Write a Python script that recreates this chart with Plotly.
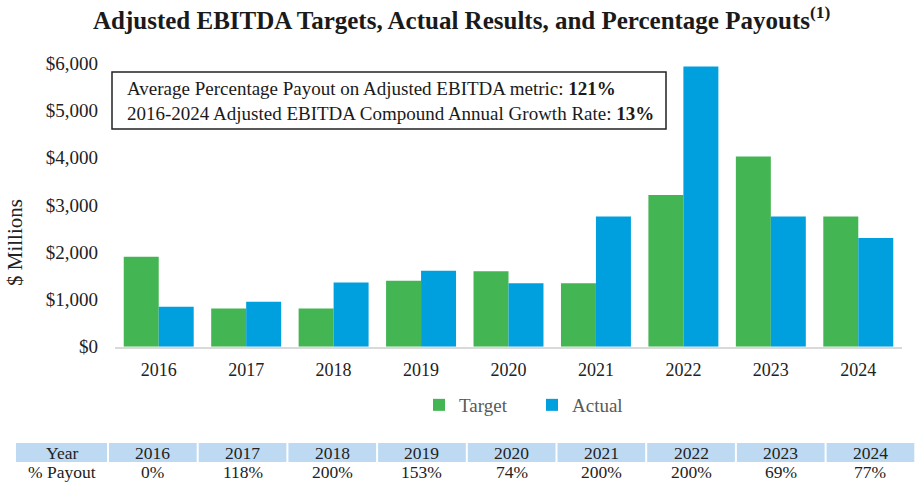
import plotly.graph_objects as go

W, H = 915, 482

years = ["2016", "2017", "2018", "2019", "2020", "2021", "2022", "2023", "2024"]
target = [1900, 810, 810, 1395, 1595, 1340, 3210, 4025, 2755]
actual = [845, 950, 1360, 1605, 1340, 2755, 5925, 2755, 2300]
payout = ["0%", "118%", "200%", "153%", "74%", "200%", "200%", "69%", "77%"]
yticks = [0, 1000, 2000, 3000, 4000, 5000, 6000]
ytick_text = ["$0", "$1,000", "$2,000", "$3,000", "$4,000", "$5,000", "$6,000"]
table_header = ["Year"] + years
table_row = ["% Payout"] + payout

GREEN = "#43B553"
BLUE = "#009FDE"
HEAD_FILL = "#BDDAF2"
FONT = "Liberation Serif"

# table geometry (pixels)
TABLE_LEFT = 15
COL_W = [93] + [89.7] * 9
HEAD_TOP, HEAD_BOT, ROW_BOT = 443, 462, 481


def px_x(x):
    return x / W


def px_y(y):
    return 1 - y / H


fig = go.Figure()
fig.add_trace(go.Bar(x=years, y=target, name="Target", marker_color=GREEN,
                     marker_line_width=0))
fig.add_trace(go.Bar(x=years, y=actual, name="Actual", marker_color=BLUE,
                     marker_line_width=0))

fig.update_layout(
    width=W, height=H,
    margin=dict(l=0, r=0, t=0, b=0, autoexpand=False),
    paper_bgcolor="white", plot_bgcolor="white",
    barmode="group", bargap=0.2, bargroupgap=0,
    font=dict(family=FONT, color="#222222"),
    showlegend=True,
    legend=dict(orientation="h", x=px_x(419), xanchor="left",
                y=px_y(386), yanchor="top",
                font=dict(family=FONT, size=19, color="#595959"),
                entrywidth=68, entrywidthmode="pixels",
                bgcolor="rgba(0,0,0,0)"),
    xaxis=dict(domain=[px_x(115), px_x(902)], showline=True, linecolor="#D9D9D9",
               linewidth=1.5, ticks="", showgrid=False, automargin=False,
               tickfont=dict(family=FONT, size=18, color="#222222"),
               ticklabelstandoff=6),
    yaxis=dict(domain=[px_y(346.7), px_y(63)], range=[0, 6000], tickvals=yticks,
               ticktext=ytick_text, showgrid=False, zeroline=False, showline=False,
               automargin=False,
               ticks="", tickfont=dict(family=FONT, size=19, color="#222222"),
               ticklabelstandoff=16),
)

# table below the chart
x_left = TABLE_LEFT
for i, w in enumerate(COL_W):
    x0, x1 = x_left, x_left + w
    fig.add_shape(type="rect", xref="paper", yref="paper", layer="below",
                  x0=px_x(x0 + 1), x1=px_x(x1 - 1), y0=px_y(HEAD_BOT), y1=px_y(HEAD_TOP),
                  line=dict(width=0), fillcolor=HEAD_FILL)
    cx = (x0 + x1) / 2
    fig.add_annotation(text=table_header[i], xref="paper", yref="paper",
                       x=px_x(cx), y=px_y((HEAD_TOP + HEAD_BOT) / 2),
                       xanchor="center", yanchor="middle", showarrow=False,
                       font=dict(family=FONT, size=17.5, color="#222222"))
    fig.add_annotation(text=table_row[i], xref="paper", yref="paper",
                       x=px_x(cx), y=px_y((HEAD_BOT + ROW_BOT) / 2),
                       xanchor="center", yanchor="middle", showarrow=False,
                       font=dict(family=FONT, size=17.5, color="#222222"))
    x_left = x1

fig.add_annotation(
    text="<b>Adjusted EBITDA Targets, Actual Results, and Percentage Payouts<sup>(1)</sup></b>",
    xref="paper", yref="paper", x=px_x(462), y=px_y(18), xanchor="center", yanchor="middle",
    showarrow=False, font=dict(family=FONT, size=25, color="#1a1a1a"))

fig.add_annotation(
    text="$ Millions", textangle=-90, xref="paper", yref="paper",
    x=px_x(15), y=px_y(243), xanchor="center", yanchor="middle",
    showarrow=False, font=dict(family=FONT, size=21, color="#222222"))

fig.add_shape(type="rect", xref="paper", yref="paper",
              x0=px_x(112), x1=px_x(666), y0=px_y(129), y1=px_y(72),
              line=dict(color="#222222", width=1.5), fillcolor="white")

fig.add_annotation(
    text="Average Percentage Payout on Adjusted EBITDA metric: <b>121%</b><br>"
         "2016-2024 Adjusted EBITDA Compound Annual Growth Rate: <b>13%</b>",
    xref="paper", yref="paper", x=px_x(125), y=px_y(100.5), xanchor="left",
    yanchor="middle", align="left", showarrow=False,
    font=dict(family=FONT, size=19, color="#1a1a1a"))

fig.write_html("out.html", config={"displayModeBar": False},
               post_script="document.body.style.margin='0';")
